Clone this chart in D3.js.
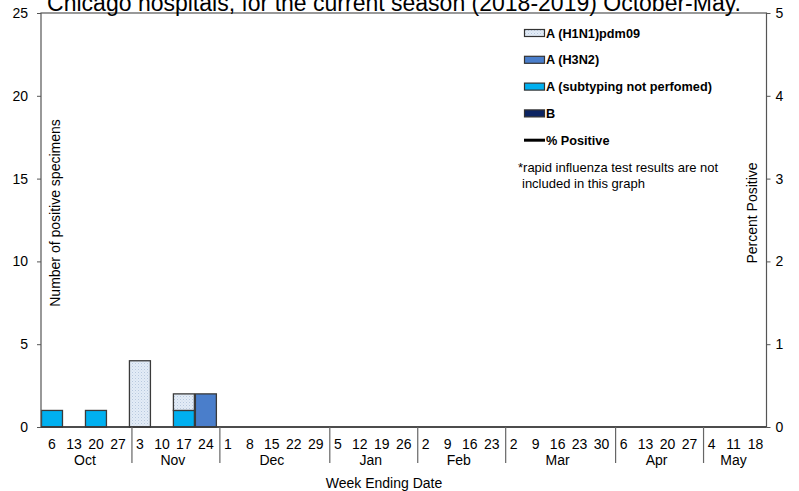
<!DOCTYPE html>
<html><head><meta charset="utf-8">
<script src="https://cdn.jsdelivr.net/npm/d3@7"></script>
<style>body{margin:0;background:#fff}svg{display:block;font-family:"Liberation Sans",Arial,sans-serif}</style>
</head><body><svg id="c" width="799" height="491"></svg>
<script>
const titleText = "Chicago hospitals, for the current season (2018-2019) October-May.";
const weekLabels = ["6","13","20","27","3","10","17","24","1","8","15","22","29","5","12","19","26","2","9","16","23","2","9","16","23","30","6","13","20","27","4","11","18"];
const monthNames = ["Oct","Nov","Dec","Jan","Feb","Mar","Apr","May"];
const monthWeeks = [4,4,5,4,4,5,4,3];
const h1n1   = [0,0,0,0,4,0,1,0,0,0,0,0,0,0,0,0,0,0,0,0,0,0,0,0,0,0,0,0,0,0,0,0,0];
const h3n2   = [0,0,0,0,0,0,0,2,0,0,0,0,0,0,0,0,0,0,0,0,0,0,0,0,0,0,0,0,0,0,0,0,0];
const subNot = [1,0,1,0,0,0,1,0,0,0,0,0,0,0,0,0,0,0,0,0,0,0,0,0,0,0,0,0,0,0,0,0,0];
const fluB   = [0,0,0,0,0,0,0,0,0,0,0,0,0,0,0,0,0,0,0,0,0,0,0,0,0,0,0,0,0,0,0,0,0];
const pctPositive = []; // no percent-positive values shown
const leftTicks = [0,5,10,15,20,25];
const rightTicks = [0,1,2,3,4,5];
const legendLabels = ["A (H1N1)pdm09","A (H3N2)","A (subtyping not perfomed)","B","% Positive"];

const svg = d3.select("#c");
const L = 41, R = 766.5, T = 13, B = 427;
const defs = svg.append("defs");
const pat = defs.append("pattern").attr("id","dots").attr("patternUnits","userSpaceOnUse").attr("width",3).attr("height",3);
pat.append("rect").attr("width",3).attr("height",3).attr("fill","#e3ecf7");
pat.append("rect").attr("x",0).attr("y",0).attr("width",1).attr("height",1).attr("fill","#b8c9de");
pat.append("rect").attr("x",1.5).attr("y",1.5).attr("width",1).attr("height",1).attr("fill","#cbd8e8");

const colors = {h1n1:"url(#dots)", h3n2:"#4a7ecb", subNot:"#00b0f0", fluB:"#0c2462"};
const idx = d3.range(weekLabels.length);
const x = d3.scaleBand().domain(idx).range([L,R]).padding(0);
const y = d3.scaleLinear().domain([0,25]).range([B,T]);
const y2 = d3.scaleLinear().domain([0,5]).range([B,T]);

const rows = idx.map(i => ({i, subNot:subNot[i], h3n2:h3n2[i], h1n1:h1n1[i], fluB:fluB[i]}));
const stack = d3.stack().keys(["subNot","h3n2","h1n1","fluB"])(rows);
stack.forEach(s => {
  svg.append("g").selectAll("rect").data(s.filter(d => d[1]-d[0] > 0)).join("rect")
    .attr("x", d => x(d.data.i)+0.5).attr("width", x.bandwidth()-1)
    .attr("y", d => y(d[1])).attr("height", d => y(d[0])-y(d[1]))
    .attr("fill", colors[s.key]).attr("stroke","#3a3a3a").attr("stroke-width",1.3);
});

if (pctPositive.length) {
  svg.append("path").datum(pctPositive).attr("fill","none").attr("stroke","#000").attr("stroke-width",2.5)
    .attr("d", d3.line().x((d,i)=>x(i)+x.bandwidth()/2).y(d=>y2(d)));
}

svg.append("rect").attr("x",L).attr("y",T).attr("width",R-L).attr("height",B-T).attr("fill","none").attr("stroke","#555").attr("stroke-width",1.2);
svg.append("line").attr("x1",L).attr("x2",R).attr("y1",B).attr("y2",B).attr("stroke","#333").attr("stroke-width",1.3);

const la = svg.append("g").attr("transform",`translate(${L},0)`)
  .call(d3.axisLeft(y).tickValues(leftTicks).tickSize(4).tickPadding(9).tickFormat(d3.format("d")));
la.select(".domain").remove();
la.selectAll("line").attr("stroke","#555");
la.selectAll("text").attr("font-size","14px").attr("fill","#000").attr("font-family","Liberation Sans, Arial");
const ra = svg.append("g").attr("transform",`translate(${R},0)`)
  .call(d3.axisRight(y2).tickValues(rightTicks).tickSize(4).tickPadding(5).tickFormat(d3.format("d")));
ra.select(".domain").remove();
ra.selectAll("line").attr("stroke","#555");
ra.selectAll("text").attr("font-size","14px").attr("fill","#000").attr("font-family","Liberation Sans, Arial");

svg.append("g").selectAll("text").data(idx).join("text")
  .attr("x", i => x(i)+x.bandwidth()/2).attr("y", 449).attr("text-anchor","middle")
  .attr("font-size","14px").text(i => weekLabels[i]);
let start = 0;
monthNames.forEach((m,k) => {
  const n = monthWeeks[k];
  const x0 = x(start), x1 = x(start+n-1)+x.bandwidth();
  svg.append("text").attr("x",(x0+x1)/2).attr("y",465).attr("text-anchor","middle").attr("font-size","14px").text(m);
  if (k>0) svg.append("line").attr("x1",x0+3).attr("x2",x0+3).attr("y1",B).attr("y2",463).attr("stroke","#666").attr("stroke-width",1.2);
  start += n;
});

svg.append("text").attr("x",384).attr("y",488).attr("text-anchor","middle").attr("font-size","14px").text("Week Ending Date");
svg.append("text").attr("transform","translate(60,213) rotate(-90)").attr("text-anchor","middle").attr("font-size","14px").text("Number of positive specimens");
svg.append("text").attr("transform","translate(757,213) rotate(-90)").attr("text-anchor","middle").attr("font-size","14px").text("Percent Positive");

svg.append("text").attr("x",394).attr("y",11).attr("text-anchor","middle").attr("font-size","23px").text(titleText);

const lg = svg.append("g");
const legFill = [colors.h1n1, colors.h3n2, colors.subNot, colors.fluB];
legendLabels.forEach((t,k) => {
  const yy = 33 + k*26.8;
  if (k<4) lg.append("rect").attr("x",524.5).attr("y",yy-3.5).attr("width",20).attr("height",7).attr("fill",legFill[k]).attr("stroke","#333").attr("stroke-width",1.2);
  else lg.append("line").attr("x1",524).attr("x2",545).attr("y1",yy).attr("y2",yy).attr("stroke","#000").attr("stroke-width",3);
  lg.append("text").attr("x",546).attr("y",yy+4.5).attr("font-size","12.7px").attr("font-weight","bold").text(t);
});
lg.append("text").attr("x",518).attr("y",172).attr("font-size","13px").text("*rapid influenza test results are not");
lg.append("text").attr("x",522).attr("y",188).attr("font-size","13px").text("included in this graph");
</script></body></html>
